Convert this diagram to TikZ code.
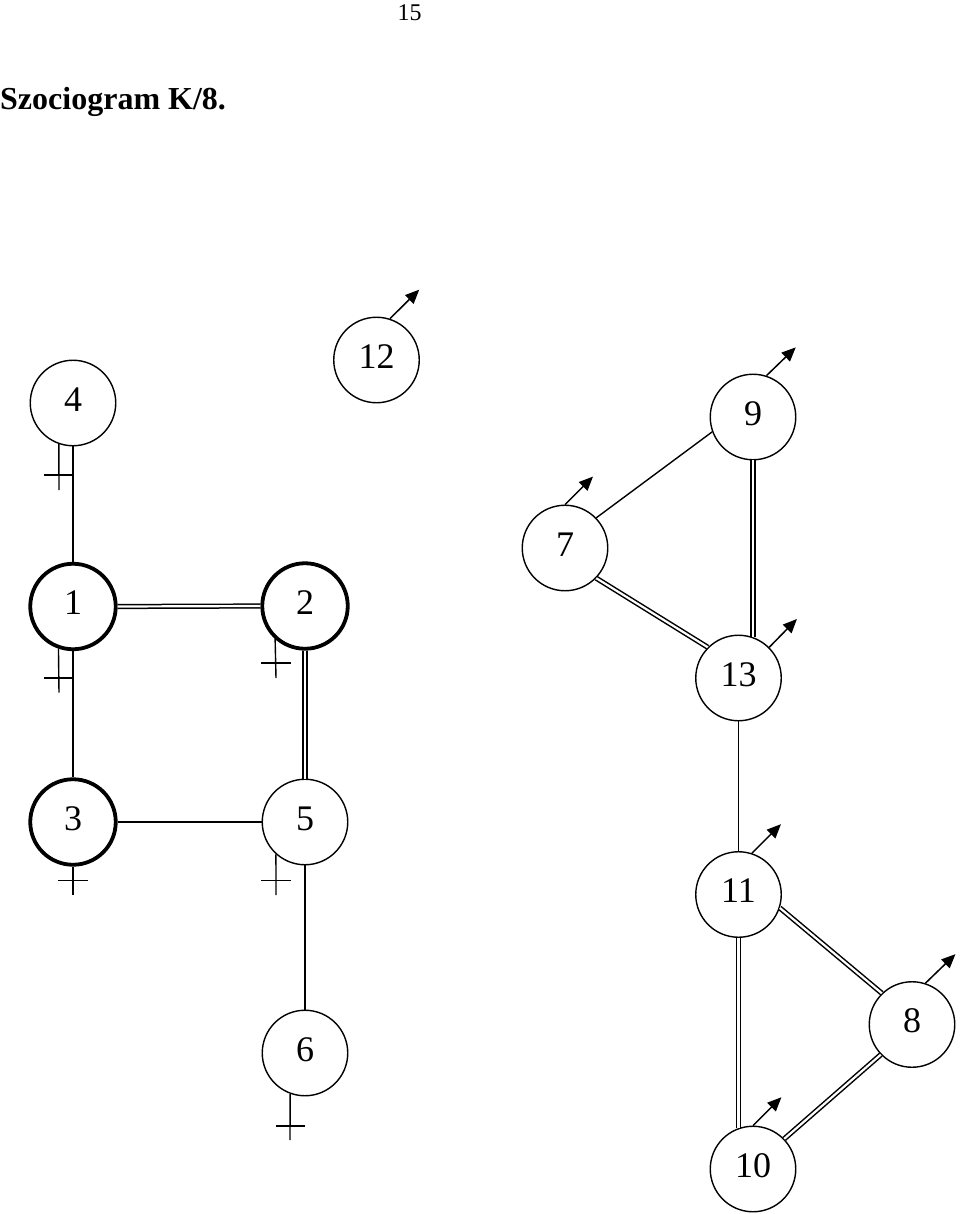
\documentclass[tikz,border=0pt]{standalone}
\usepackage{fontspec}
\setmainfont{Liberation Serif}
\usetikzlibrary{arrows.meta}
\begin{document}
\begin{tikzpicture}[x=1pt,y=-1pt,
  pnode/.style={circle,draw,line width=1.4pt,minimum size=85.5pt,inner sep=0pt,
    font=\fontsize{36}{40}\selectfont,text depth=7pt},
  strong/.style={pnode,line width=3.8pt},
  edge/.style={line width=1.4pt},
  dbl/.style={line width=1.5pt,double,double distance=2.2pt},
  outarrow/.style={line width=1.5pt,-{Triangle[length=14pt,width=12pt]}}]
\useasboundingbox (0,0) rectangle (960,1214);
\node[anchor=base west,inner sep=0pt,font=\fontsize{24}{28}\selectfont] (page) at (397.5,21) {15};
\node[anchor=base west,inner sep=0pt,font=\fontsize{32}{36}\selectfont\bfseries] (title) at (0,110) {Szociogram K/8.};
% nodes
\node[pnode] (n4) at (73,403) {4};
\node[pnode] (n12) at (376.5,360) {12};
\node[strong] (n1) at (73,606.5) {1};
\node[strong] (n2) at (305,606) {2};
\node[strong] (n3) at (73,822) {3};
\node[pnode] (n5) at (305,822) {5};
\node[pnode] (n6) at (305,1053) {6};
\node[pnode] (n9) at (753,417) {9};
\node[pnode] (n7) at (565,548) {7};
\node[pnode] (n13) at (738.5,678) {13};
\node[pnode] (n11) at (738.5,894.5) {11};
\node[pnode] (n8) at (912,1024.5) {8};
\node[pnode] (n10) at (753,1169) {10};
% connectors left group
\draw[edge] (n4.south) -- (n1.north);
\draw[edge] (n1.south) -- (n3.north);
\draw[dbl] (n1.east) -- (n2.west);
\draw[dbl] (n2.south) -- (n5.north);
\draw[edge] (n3.east) -- (n5.west);
\draw[edge] (n5.south) -- (n6.north);
% rejection marks
\draw[edge] (n4.251) -- (59,490);
\draw[edge] (44,475) -- (73,475);
\draw[edge] (n1.251) -- (59,692.7);
\draw[edge] (44,678) -- (73,678);
\draw[edge] (n2.228) -- (276,678);
\draw[edge] (261,663) -- (291,663);
\draw[edge] (n3.south) -- (73,895);
\draw[edge] (58,880.7) -- (88,880.7);
\draw[edge] (n5.228) -- (276,895);
\draw[edge] (261,880.7) -- (291,880.7);
\draw[edge] (n6.250) -- (290,1140);
\draw[edge] (275.5,1126) -- (305,1126);
% connectors right group
\draw[edge] (n7.44) -- (n9.200);
\draw[dbl] (n7.316) -- (n13.135);
\draw[dbl] (n9.south) -- (n9.south |- n13.71);
\draw[edge] (n13.south) -- (n11.north);
\draw[dbl] (n11.342) -- (n8.134);
\draw[dbl] (n11.south) -- (n11.south |- n10.109);
\draw[dbl] (n8.224) -- (n10.44);
% outgoing arrows
\draw[outarrow] (n12.72) -- ++(29.3,-29) coordinate (a12);
\draw[outarrow] (n9.72) -- ++(29.3,-28.3) coordinate (a9);
\draw[outarrow] (n7.90) -- ++(28,-28) coordinate (a7);
\draw[outarrow] (n13.45) -- ++(27.7,-28.3) coordinate (a13);
\draw[outarrow] (n11.72) -- ++(29,-29) coordinate (a11);
\draw[outarrow] (n8.72) -- ++(30,-29) coordinate (a8);
\draw[outarrow] (n10.90) -- ++(28.4,-28.3) coordinate (a10);
\end{tikzpicture}
\end{document}
